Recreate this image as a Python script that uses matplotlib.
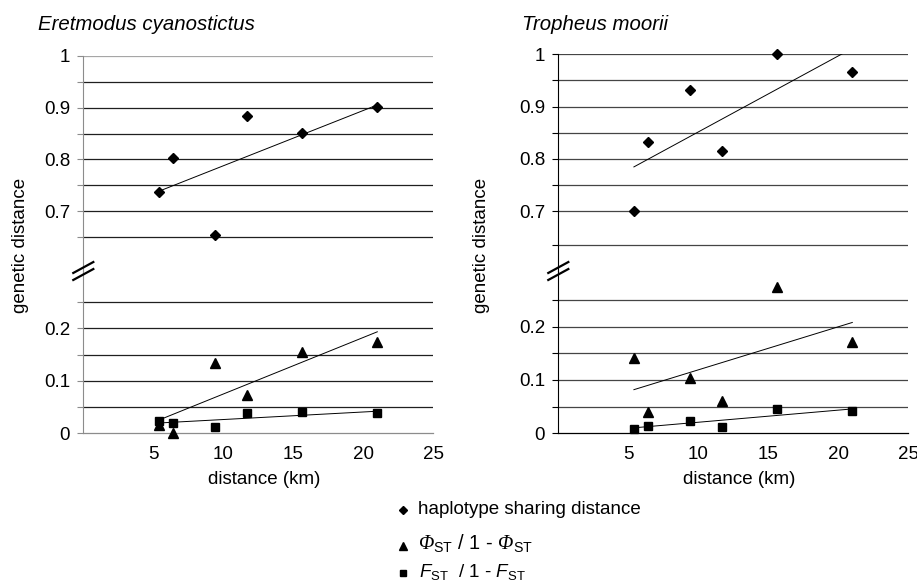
import numpy as np
import matplotlib
matplotlib.use('Agg')
import matplotlib.pyplot as plt

plt.rcParams['font.family'] = ['Liberation Sans', 'DejaVu Sans']
plt.rcParams['mathtext.fontset'] = 'custom'
plt.rcParams['mathtext.rm'] = 'Liberation Sans'
plt.rcParams['mathtext.sf'] = 'Liberation Sans:italic'
plt.rcParams['mathtext.bf'] = 'Liberation Serif:italic'

# geographic distance between sampled populations
distance_km = [5.4, 6.4, 9.4, 11.7, 15.6, 21.0]

# Eretmodus cyanostictus
eret_haplo = [0.736, 0.802, 0.654, 0.883, 0.851, 0.901]
eret_phi = [0.015, 0.001, 0.133, 0.073, 0.155, 0.174]
eret_fst = [0.023, 0.020, 0.012, 0.038, 0.040, 0.038]

# Tropheus moorii
trop_haplo = [0.700, 0.833, 0.932, 0.816, 1.000, 0.967]
trop_phi = [0.141, 0.040, 0.104, 0.061, 0.274, 0.171]
trop_fst = [0.009, 0.014, 0.024, 0.012, 0.045, 0.042]

x_ticks = [5, 10, 15, 20, 25]
upper_labels = [0.7, 0.8, 0.9, 1.0]
lower_labels = [0, 0.1, 0.2]

W, H = 917, 583
fig = plt.figure(figsize=(W / 100, H / 100), dpi=100)


def fig_rect(left, top, right, bottom):
    return [left / W, 1 - bottom / H, (right - left) / W, (bottom - top) / H]


def trend(ax, x, y):
    coef = np.polyfit(x, y, 1)
    xs = np.array([min(x), max(x)])
    ax.plot(xs, np.polyval(coef, xs), color='black', lw=0.7, zorder=2)


def style_axis(ax, grid, labels, ylim, spine_col, grid_col, top_col):
    ax.set_xlim(0, 25)
    ax.set_ylim(*ylim)
    ax.set_facecolor('none')
    for s in ['top', 'right', 'bottom']:
        ax.spines[s].set_visible(False)
    ax.spines['left'].set_color(spine_col)
    ax.spines['left'].set_linewidth(0.8)
    for g in grid:
        ax.axhline(g, color=top_col if g == 1.0 else grid_col, lw=0.9, zorder=1)
    ax.set_yticks(labels)
    ax.set_yticklabels([f'{v:g}' for v in labels])
    ax.set_yticks([g for g in grid if g not in labels], minor=True)
    ax.tick_params(axis='y', which='both', direction='out', length=4,
                   width=0.8, color=spine_col, pad=5.5, labelsize=13.5)


def panel(left, right, top, brk, bottom, up_lim, lo_lim, up_grid, lo_grid,
          haplo, phi, fst, spine_col, grid_col, top_col):
    ax_up = fig.add_axes(fig_rect(left, top, right, brk))
    ax_lo = fig.add_axes(fig_rect(left, brk, right, bottom))

    style_axis(ax_up, up_grid, upper_labels, up_lim, spine_col, grid_col, top_col)
    ax_up.set_xticks([])

    style_axis(ax_lo, lo_grid, lower_labels, lo_lim, spine_col, grid_col, top_col)
    ax_lo.spines['bottom'].set_visible(True)
    ax_lo.spines['bottom'].set_color(spine_col)
    ax_lo.spines['bottom'].set_linewidth(0.9)
    ax_lo.set_xticks(x_ticks)
    ax_lo.tick_params(axis='x', length=0, pad=9, labelsize=13.5)

    ax_up.plot(distance_km, haplo, 'D', color='black', ms=5.0,
               clip_on=False, zorder=3)
    trend(ax_up, distance_km, haplo)

    ax_lo.plot(distance_km, phi, '^', color='black', ms=6.8,
               clip_on=False, zorder=3)
    trend(ax_lo, distance_km, phi)
    ax_lo.plot(distance_km, fst, 's', color='black', ms=5.6,
               clip_on=False, zorder=3)
    trend(ax_lo, distance_km, fst)
    return ax_up, ax_lo


panel(83.3, 433.3, 56, 271, 433.3, (0.584, 1.0), (0, 0.309),
      [0.65, 0.7, 0.75, 0.8, 0.85, 0.9, 0.95, 1.0],
      [0.05, 0.1, 0.15, 0.2, 0.25],
      eret_haplo, eret_phi, eret_fst, '#8c8c8c', '#1f1f1f', '#a6a6a6')

panel(558.3, 908.3, 54.3, 271, 433.3, (0.586, 1.0), (0, 0.3045),
      [0.635, 0.7, 0.75, 0.8, 0.85, 0.9, 0.95, 1.0],
      [0.05, 0.1, 0.15, 0.2, 0.25],
      trop_haplo, trop_phi, trop_fst, '#000000', '#454545', '#454545')

# overlay in pixel coordinates for labels, axis breaks and legend
ov = fig.add_axes([0, 0, 1, 1], zorder=10)
ov.set_xlim(0, W)
ov.set_ylim(H, 0)
ov.axis('off')
ov.patch.set_alpha(0)

ov.text(38.3, 29.5, 'Eretmodus cyanostictus', fontsize=14.7, style='italic',
        va='baseline', ha='left')
ov.text(521.7, 30, 'Tropheus moorii', fontsize=14.7, style='italic',
        va='baseline', ha='left')

ov.text(21, 245, 'genetic distance', rotation=90, fontsize=13.5,
        ha='center', va='center')
ov.text(481, 245, 'genetic distance', rotation=90, fontsize=13.5,
        ha='center', va='center')
ov.text(264, 480, 'distance (km)', fontsize=13.5, ha='center', va='center')
ov.text(739, 480, 'distance (km)', fontsize=13.5, ha='center', va='center')

for cx in (83.3, 558.3):
    for d in (-3.5, 3.5):
        ov.plot([cx - 11, cx + 11], [271 + 6 + d, 271 - 6 + d],
                color='black', lw=1.6, solid_capstyle='butt')

# legend
ov.plot(403.3, 510, 'D', color='black', ms=3.8)
ov.plot(403.3, 546, '^', color='black', ms=5.4)
ov.plot(403.3, 572.5, 's', color='black', ms=4.4)
ov.text(418, 514, 'haplotype sharing distance', fontsize=13.5, va='baseline')
ov.text(418, 550, r'$\mathbf{\Phi}_{\mathrm{ST}}$ / 1 - $\mathbf{\Phi}_{\mathrm{ST}}$',
        fontsize=14.5, va='baseline')
ov.text(419, 578, r'$\mathsf{F}_{\mathrm{ST}}$  / 1 - $\mathsf{F}_{\mathrm{ST}}$',
        fontsize=13.5, va='baseline')

fig.savefig('out.png', dpi=100)
